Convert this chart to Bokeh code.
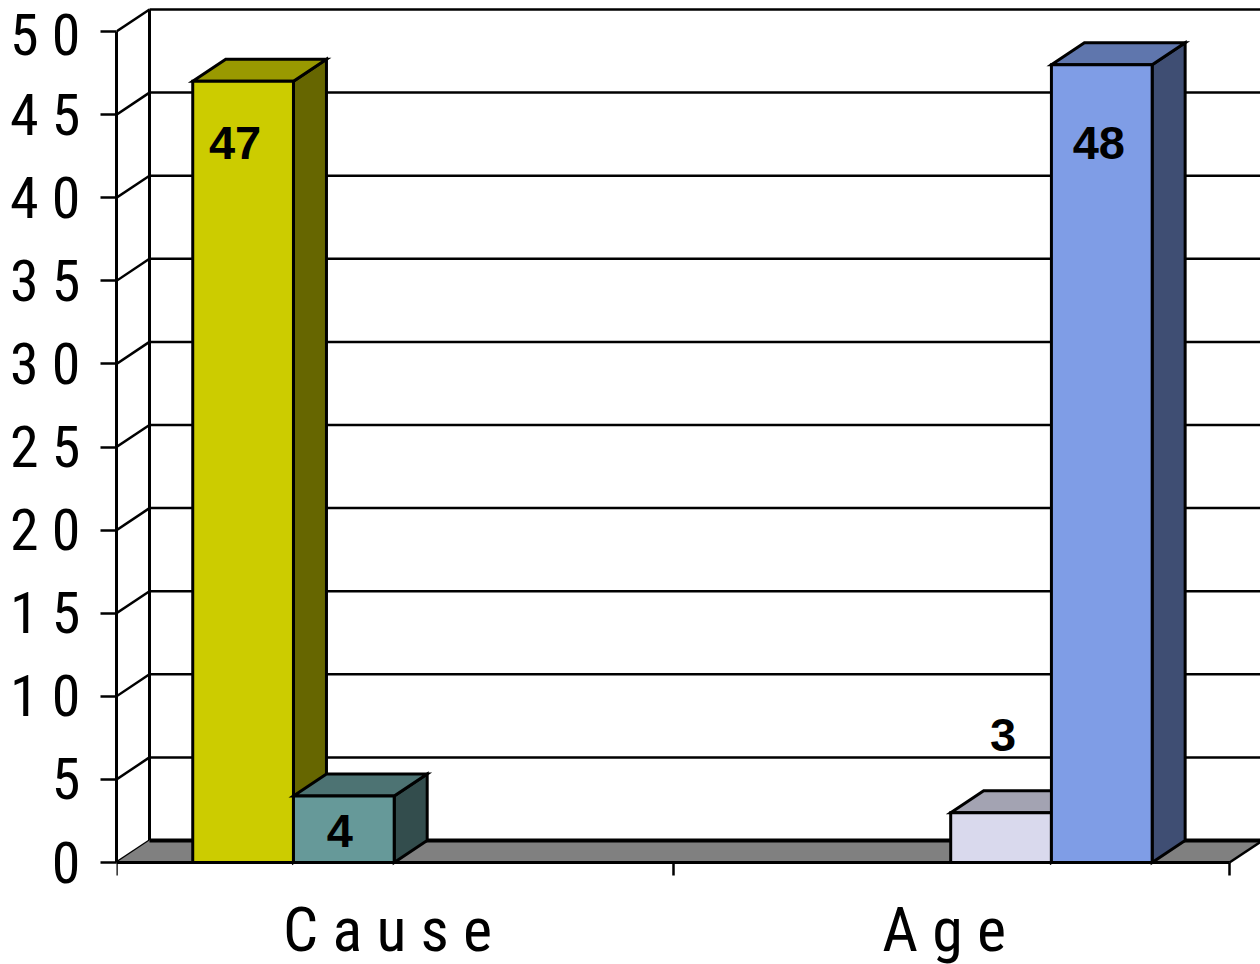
from bokeh.plotting import figure
from bokeh.models import Range1d, FixedTicker, ColumnDataSource
from bokeh.core.properties import value
from bokeh.embed import file_html
from bokeh.resources import INLINE

categories = ["C a u s e ", "A g e "]
y_ticks = [0, 5, 10, 15, 20, 25, 30, 35, 40, 45, 50]
y_labels = ["0", "5", "1 0", "1 5", "2 0", "2 5", "3 0", "3 5", "4 0", "4 5", "5 0"]
series_names = ["A", "B", "C", "D"]
bar_category = [0, 0, 1, 1]
bar_slot = [0, 1, 2, 3]
bar_values = [47, 4, 3, 48]
front_colors = ["#CCCC00", "#669999", "#D9D9ED", "#7F9DE6"]
top_colors = ["#999900", "#4D7373", "#A3A3B2", "#5F76AD"]
side_colors = ["#666600", "#334D4D", "#6D6D77", "#3F4E73"]
label_dx = [-8, -4, 2, -3]
label_dy = [62, 35, -78, 78]

FONT = "Roboto Condensed"
LW = 3
GLW = 2.5
W, H = 1260, 964
LEFT, BASE = 116, 862
PX_X = 556.5
PX_Y = 16.62
DX = 33 / PX_X
DY = 22 / PX_Y
GAP = 0.137
BW = 0.181

p = figure(width=W, height=H, output_backend="svg", toolbar_location=None,
           x_range=Range1d(0, (W - LEFT) / PX_X),
           y_range=Range1d(-(H - BASE) / PX_Y, BASE / PX_Y),
           min_border_left=LEFT, min_border_bottom=0, min_border_top=0, min_border_right=0,
           outline_line_color=None, background_fill_color="white")
p.grid.visible = False

xa = p.xaxis[0]
xa.fixed_location = 0
xa.ticker = FixedTicker(ticks=[0.5, 1.5], minor_ticks=[0, 1, 2])
xa.major_label_overrides = {0.5: categories[0], 1.5: categories[1]}
xa.major_tick_out = 0
xa.major_tick_in = 0
xa.minor_tick_out = 13
xa.minor_tick_in = 0
xa.minor_tick_line_width = GLW
xa.minor_tick_line_color = "black"
xa.axis_line_width = LW
xa.axis_line_color = "black"
xa.bounds = (0, 2)
xa.major_label_standoff = 17
xa.major_label_text_font = FONT
xa.major_label_text_font_size = "62px"
xa.major_label_text_color = "black"

ya = p.yaxis[0]
ya.ticker = FixedTicker(ticks=y_ticks)
ya.major_label_overrides = dict(zip(y_ticks, y_labels))
ya.major_tick_out = 16
ya.major_tick_in = 0
ya.major_tick_line_width = GLW
ya.major_tick_line_color = "black"
ya.minor_tick_out = 0
ya.minor_tick_in = 0
ya.axis_line_width = LW
ya.axis_line_color = "black"
ya.bounds = (0, 50)
ya.major_label_standoff = 20
ya.major_label_text_font = FONT
ya.major_label_text_font_size = "58px"
ya.major_label_text_color = "black"

x_end = p.x_range.end + 0.01

# back wall gridlines and diagonals
p.multi_line(xs=[[DX, x_end] for t in y_ticks[1:]],
             ys=[[t + DY, t + DY] for t in y_ticks[1:]],
             line_color="black", line_width=GLW)
p.multi_line(xs=[[0, DX] for t in y_ticks],
             ys=[[t, t + DY] for t in y_ticks],
             line_color="black", line_width=GLW)
p.line([DX, DX], [DY, 50 + DY], line_color="black", line_width=LW)

# floor
p.patch([0, DX, 2 + DX, 2], [0, DY, DY, 0], fill_color="#808080", line_color=None)
p.line([DX, x_end], [DY, DY], line_color="black", line_width=4)
p.line([2, 2 + DX], [0, DY], line_color="black", line_width=GLW)

lx, ly, lt, ldx, ldy = [], [], [], [], []
for i, name in enumerate(series_names):
    x0 = bar_category[i] + GAP + bar_slot[i] * BW
    x1 = x0 + BW
    v = bar_values[i]
    outline = dict(line_color="black", line_width=LW, line_join="miter")
    p.patch([x1, x1 + DX, x1 + DX, x1], [0, DY, v + DY, v], fill_color=side_colors[i], **outline)
    p.patch([x0, x0 + DX, x1 + DX, x1], [v, v + DY, v + DY, v], fill_color=top_colors[i], **outline)
    p.patch([x0, x1, x1, x0], [0, 0, v, v], fill_color=front_colors[i], **outline)
    lx.append((x0 + x1) / 2)
    ly.append(v)
    lt.append(str(v))
    ldx.append(label_dx[i])
    ldy.append(label_dy[i])

src = ColumnDataSource(dict(x=lx, y=ly, t=lt, dx=ldx, dy=ldy))
p.text("x", "y", text="t", source=src, x_offset="dx", y_offset="dy",
       text_font=value("Liberation Sans"), text_font_style="bold", text_font_size="47px",
       text_align="center", text_baseline="middle", text_color="black")

open("out.html", "w").write(file_html(p, INLINE))
